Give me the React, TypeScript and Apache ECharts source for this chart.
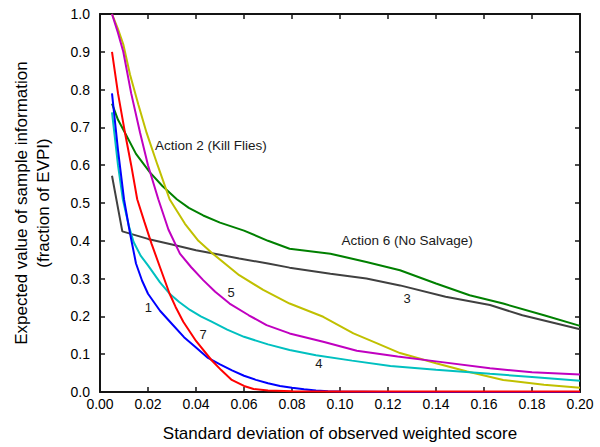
import React, { useEffect, useRef } from "react";
import * as echarts from "echarts";

const xTicks = { min: 0, max: 0.2, interval: 0.02 };

const blue: [number, number][] = [
  [0.005, 0.79], [0.0075, 0.64], [0.01, 0.51], [0.0125, 0.42], [0.015, 0.34], [0.0175, 0.295],
  [0.02, 0.26], [0.025, 0.215], [0.03, 0.18], [0.035, 0.145], [0.04, 0.118], [0.045, 0.09],
  [0.05, 0.073], [0.055, 0.057], [0.06, 0.043], [0.065, 0.032], [0.07, 0.023], [0.075, 0.016],
  [0.08, 0.011], [0.085, 0.007], [0.09, 0.004], [0.095, 0.002], [0.1, 0.001], [0.12, 0.0], [0.2, 0.0],
];
const cyan: [number, number][] = [
  [0.005, 0.74], [0.0075, 0.6], [0.0095, 0.51], [0.012, 0.44], [0.014, 0.397], [0.017, 0.36],
  [0.02, 0.335], [0.025, 0.29], [0.029, 0.26], [0.033, 0.238], [0.0375, 0.217], [0.042, 0.2],
  [0.0465, 0.186], [0.053, 0.165], [0.06, 0.146], [0.07, 0.126], [0.079, 0.111], [0.09, 0.097],
  [0.105, 0.083], [0.121, 0.069], [0.14, 0.059], [0.1625, 0.048], [0.18, 0.04], [0.2, 0.03],
];
const red: [number, number][] = [
  [0.005, 0.9], [0.0075, 0.79], [0.0104, 0.686], [0.013, 0.6], [0.0155, 0.51], [0.0185, 0.45],
  [0.0215, 0.392], [0.025, 0.33], [0.029, 0.26], [0.0315, 0.225], [0.0347, 0.186], [0.04, 0.135],
  [0.0465, 0.084], [0.0505, 0.058], [0.0549, 0.032], [0.06, 0.016], [0.064, 0.008], [0.07, 0.004],
  [0.08, 0.002], [0.1, 0.001], [0.2, 0.001],
];
const magenta: [number, number][] = [
  [0.005, 1.0], [0.0075, 0.95], [0.0097, 0.9], [0.013, 0.79], [0.0167, 0.686], [0.02, 0.6],
  [0.0243, 0.51], [0.0285, 0.43], [0.0333, 0.366], [0.038, 0.33], [0.043, 0.296], [0.048, 0.265],
  [0.054, 0.234], [0.062, 0.203], [0.0694, 0.177], [0.079, 0.155], [0.093, 0.133], [0.107, 0.109],
  [0.124, 0.094], [0.14, 0.081], [0.1625, 0.063], [0.18, 0.052], [0.2, 0.046],
];
const yellow: [number, number][] = [
  [0.005, 1.0], [0.0075, 0.96], [0.0097, 0.92], [0.0125, 0.84], [0.016, 0.76], [0.0194, 0.686],
  [0.024, 0.6], [0.029, 0.51], [0.0354, 0.445], [0.041, 0.4], [0.047, 0.366], [0.058, 0.309],
  [0.068, 0.27], [0.079, 0.234], [0.093, 0.199], [0.1056, 0.155], [0.115, 0.13], [0.125, 0.103],
  [0.14, 0.076], [0.153, 0.054], [0.168, 0.032], [0.185, 0.019], [0.2, 0.011],
];
const green: [number, number][] = [
  [0.005, 0.763], [0.0075, 0.72], [0.0104, 0.686], [0.015, 0.63], [0.0208, 0.581], [0.026, 0.545],
  [0.032, 0.51], [0.037, 0.487], [0.043, 0.467], [0.05, 0.448], [0.06, 0.427], [0.07, 0.4],
  [0.079, 0.379], [0.096, 0.366], [0.111, 0.344], [0.125, 0.322], [0.14, 0.287], [0.154, 0.256],
  [0.168, 0.234], [0.185, 0.203], [0.2, 0.175],
];
const gray: [number, number][] = [
  [0.005, 0.572], [0.0093, 0.425], [0.02, 0.405], [0.03, 0.39], [0.04, 0.375], [0.05, 0.363],
  [0.058, 0.353], [0.07, 0.34], [0.079, 0.329], [0.096, 0.313], [0.111, 0.3], [0.125, 0.282],
  [0.144, 0.252], [0.1625, 0.23], [0.176, 0.203], [0.2, 0.166],
];

const numberLabels: { text: string; x: number; y: number }[] = [
  { text: "1", x: 0.0201, y: 0.223 },
  { text: "7", x: 0.043, y: 0.151 },
  { text: "5", x: 0.0546, y: 0.263 },
  { text: "4", x: 0.0912, y: 0.0745 },
  { text: "3", x: 0.128, y: 0.247 },
];
const actionLabels: { text: string; x: number; y: number }[] = [
  { text: "Action 2 (Kill Flies)", x: 0.0462, y: 0.653 },
  { text: "Action 6 (No Salvage)", x: 0.128, y: 0.401 },
];

const curves: { name: string; data: [number, number][]; color: string }[] = [
  { name: "gray", data: gray, color: "#404040" },
  { name: "green", data: green, color: "#008000" },
  { name: "yellow", data: yellow, color: "#c0c000" },
  { name: "magenta", data: magenta, color: "#c000c0" },
  { name: "cyan", data: cyan, color: "#00c0c0" },
  { name: "blue", data: blue, color: "#0000ff" },
  { name: "red", data: red, color: "#ff0000" },
];

export default function App() {
  const ref = useRef<HTMLDivElement>(null);
  useEffect(() => {
    if (!ref.current) return;
    const chart = echarts.init(ref.current, null, { renderer: "svg" });
    const font = "Liberation Sans, Arial, sans-serif";
    const frame = "#141414";
    const axisLine = () => ({ show: true, onZero: false, lineStyle: { color: frame, width: 2 } });
    const tick = () => ({ show: true, inside: true, length: 5, lineStyle: { color: frame, width: 1.5 } });
    chart.setOption({
      animation: false,
      grid: { left: 100, right: 20, top: 14, bottom: 53 },
      xAxis: [
        {
          type: "value", ...xTicks,
          axisLine: axisLine(), splitLine: { show: false }, axisTick: tick(),
          axisLabel: { color: "#000", fontSize: 14, margin: 5, fontFamily: font, formatter: (v: number) => v.toFixed(2) },
          name: "Standard deviation of observed weighted score",
          nameLocation: "middle", nameGap: 33,
          nameTextStyle: { color: "#000", fontSize: 17, fontFamily: font },
        },
        {
          type: "value", position: "top", ...xTicks,
          axisLine: axisLine(), splitLine: { show: false }, axisTick: tick(),
          axisLabel: { show: false },
        },
      ],
      yAxis: [
        {
          type: "value", min: 0, max: 1, interval: 0.1,
          axisLine: axisLine(), splitLine: { show: false }, axisTick: tick(),
          axisLabel: { color: "#000", fontSize: 14, margin: 10, fontFamily: font, formatter: (v: number) => v.toFixed(1) },
          name: "Expected value of sample information\n(fraction of EVPI)",
          nameLocation: "middle", nameGap: 46,
          nameTextStyle: { color: "#000", fontSize: 17, lineHeight: 22, fontFamily: font },
        },
        {
          type: "value", position: "right", min: 0, max: 1, interval: 0.1,
          axisLine: axisLine(), splitLine: { show: false }, axisTick: tick(),
          axisLabel: { show: false },
        },
      ],
      series: curves.map((c) => ({
        type: "line", name: c.name, data: c.data, showSymbol: false, symbol: "none",
        lineStyle: { color: c.color, width: 2 }, itemStyle: { color: c.color },
        silent: true,
      })),
    });
    const toText = (items: { text: string; x: number; y: number }[], size: number) =>
      items.map((a) => {
        const p = chart.convertToPixel({ xAxisIndex: 0, yAxisIndex: 0 }, [a.x, a.y]) as number[];
        return {
          type: "text", x: p[0], y: p[1], silent: true,
          style: {
            text: a.text, fill: "#1a1a1a", fontSize: size, fontFamily: font,
            align: "center", verticalAlign: "middle",
          },
        };
      });
    chart.setOption({
      graphic: [...toText(numberLabels, 13), ...toText(actionLabels, 13.5)],
    });
    return () => chart.dispose();
  }, []);
  return (
    <div
      ref={ref}
      style={{ position: "absolute", left: 0, top: 0, width: 600, height: 447 }}
    />
  );
}
